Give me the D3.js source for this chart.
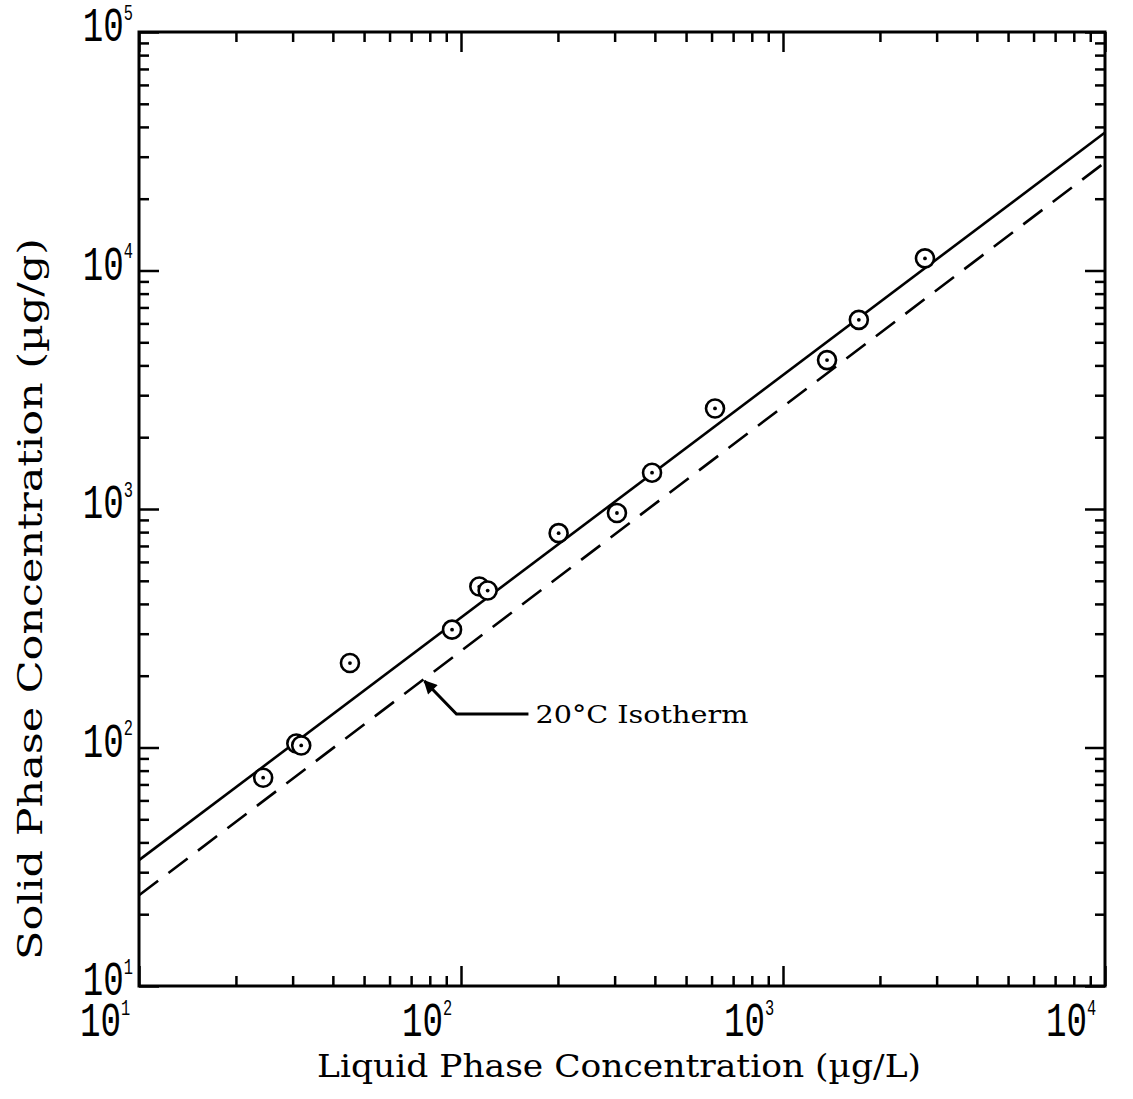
<!DOCTYPE html>
<html>
<head>
<meta charset="utf-8">
<script src="https://cdn.jsdelivr.net/npm/d3@7"></script>
<style>
  body { margin: 0; background: #fff; }
</style>
</head>
<body>
<div id="chart"></div>
<script>
// measured isotherm points (liquid µg/L, solid µg/g)
const liquid = [24.3, 30.8, 31.9, 45.2, 93.8, 114, 121, 201, 305, 392, 615, 1370, 1720, 2760];
const solid  = [74.7, 104, 102, 226, 312, 473, 455, 792, 962, 1420, 2640, 4210, 6210, 11240];

// fitted lines, given by their end points
const fitX = [10, 10000];
const fitSolid = [33.7, 37900];
const fitDashed = [24, 28400];

const xTicks = [10, 100, 1000, 10000];
const yTicks = [10, 100, 1000, 10000, 100000];
const annotation = "20°C Isotherm";
const arrowTip = [77, 190];

const margin = { top: 32, right: 28, bottom: 113, left: 139 };
const W = 1133, H = 1099;
const width = W - margin.left - margin.right;
const height = H - margin.top - margin.bottom;

const svg = d3.select("#chart").append("svg")
  .attr("width", W)
  .attr("height", H);

const g = svg.append("g")
  .attr("transform", `translate(${margin.left},${margin.top})`);

const x = d3.scaleLog().domain([10, 10000]).range([0, width]);
const y = d3.scaleLog().domain([10, 100000]).range([height, 0]);

// minor ticks 2..9 in every decade
const minors = (lo, hi) => {
  const out = [];
  for (let d = lo; d < hi; d *= 10)
    for (let k = 2; k <= 9; k++) out.push(d * k);
  return out;
};
const xMinor = minors(10, 10000);
const yMinor = minors(10, 100000);

const sides = [
  { ax: d3.axisBottom(x), t: `translate(0,${height})` },
  { ax: d3.axisTop(x), t: "translate(0,0)" },
  { ax: d3.axisLeft(y), t: "translate(0,0)" },
  { ax: d3.axisRight(y), t: `translate(${width},0)` },
];

sides.forEach((s, i) => {
  const isX = i < 2;
  const major = isX ? xTicks : yTicks;
  const minor = isX ? xMinor : yMinor;
  [[minor, 10], [major, 20]].forEach(([vals, len]) => {
    const a = g.append("g")
      .attr("transform", s.t)
      .call(s.ax.tickValues(vals).tickSize(-len).tickFormat(""));
    a.select(".domain").remove();
    a.selectAll("line").attr("stroke", "#000").attr("stroke-width", 2.5);
  });
});

// frame
g.append("rect")
  .attr("width", width)
  .attr("height", height)
  .attr("fill", "none")
  .attr("stroke", "#000")
  .attr("stroke-width", 3);

// tick labels: "10" with a superscript exponent, tall narrow digits
const labFont = "'Liberation Mono', monospace";

function powerLabel(px, py, anchor, v) {
  const t = g.append("text")
    .attr("transform", `translate(${px},${py}) scale(0.9,1.25)`)
    .attr("text-anchor", anchor)
    .style("font-family", labFont)
    .style("font-size", "38px");
  t.append("tspan").text("10");
  t.append("tspan")
    .attr("dy", -17)
    .style("font-size", "17px")
    .text(Math.round(Math.log10(v)));
}

xTicks.forEach(v => powerLabel(x(v) - 34, height + 50, "middle", v));
yTicks.forEach(v => powerLabel(-6, y(v) + 9, "end", v));

// axis titles
const titleFont = "'DejaVu Serif', serif";

g.append("text")
  .attr("x", width / 2 - 3)
  .attr("y", height + 91)
  .attr("text-anchor", "middle")
  .attr("textLength", 604)
  .attr("lengthAdjust", "spacingAndGlyphs")
  .style("font-family", titleFont)
  .style("font-size", "31px")
  .text("Liquid Phase Concentration (µg/L)");

g.append("text")
  .attr("transform", "rotate(-90)")
  .attr("x", -(y(1000) + 90))
  .attr("y", -97)
  .attr("text-anchor", "middle")
  .attr("textLength", 722)
  .attr("lengthAdjust", "spacingAndGlyphs")
  .style("font-family", titleFont)
  .style("font-size", "33px")
  .text("Solid Phase Concentration (µg/g)");

// fitted lines
const line = d3.line()
  .x(d => x(d[0]))
  .y(d => y(d[1]));

g.append("path")
  .datum(d3.zip(fitX, fitSolid))
  .attr("fill", "none")
  .attr("stroke", "#000")
  .attr("stroke-width", 2.6)
  .attr("d", line);

g.append("path")
  .datum(d3.zip(fitX, fitDashed))
  .attr("fill", "none")
  .attr("stroke", "#000")
  .attr("stroke-width", 2.6)
  .attr("stroke-dasharray", "24,13")
  .attr("d", line);

// data points: open circle with centre dot
const pts = g.selectAll(".pt")
  .data(d3.zip(liquid, solid))
  .join("g")
  .attr("class", "pt")
  .attr("transform", d => `translate(${x(d[0])},${y(d[1])})`);

pts.append("circle")
  .attr("r", 9)
  .attr("fill", "#fff")
  .attr("stroke", "#000")
  .attr("stroke-width", 2.6);

pts.append("circle")
  .attr("r", 1.9)
  .attr("fill", "#000");

// annotation with arrow pointing at the dashed isotherm
const ax0 = x(arrowTip[0]), ay0 = y(arrowTip[1]);
const elbowX = ax0 + 32, elbowY = ay0 + 33;
const endX = elbowX + 72;

svg.append("defs").append("marker")
  .attr("id", "head")
  .attr("viewBox", "0 0 10 10")
  .attr("refX", 9)
  .attr("refY", 5)
  .attr("markerWidth", 6)
  .attr("markerHeight", 4.5)
  .attr("orient", "auto")
  .append("path")
  .attr("d", "M0,0 L10,5 L0,10 z")
  .attr("fill", "#000");

g.append("path")
  .attr("d", `M${endX},${elbowY} L${elbowX},${elbowY} L${ax0},${ay0}`)
  .attr("fill", "none")
  .attr("stroke", "#000")
  .attr("stroke-width", 3)
  .attr("marker-end", "url(#head)");

g.append("text")
  .attr("x", endX + 7)
  .attr("y", elbowY + 9)
  .attr("textLength", 213)
  .attr("lengthAdjust", "spacingAndGlyphs")
  .style("font-family", titleFont)
  .style("font-size", "25px")
  .text(annotation);
</script>
</body>
</html>
